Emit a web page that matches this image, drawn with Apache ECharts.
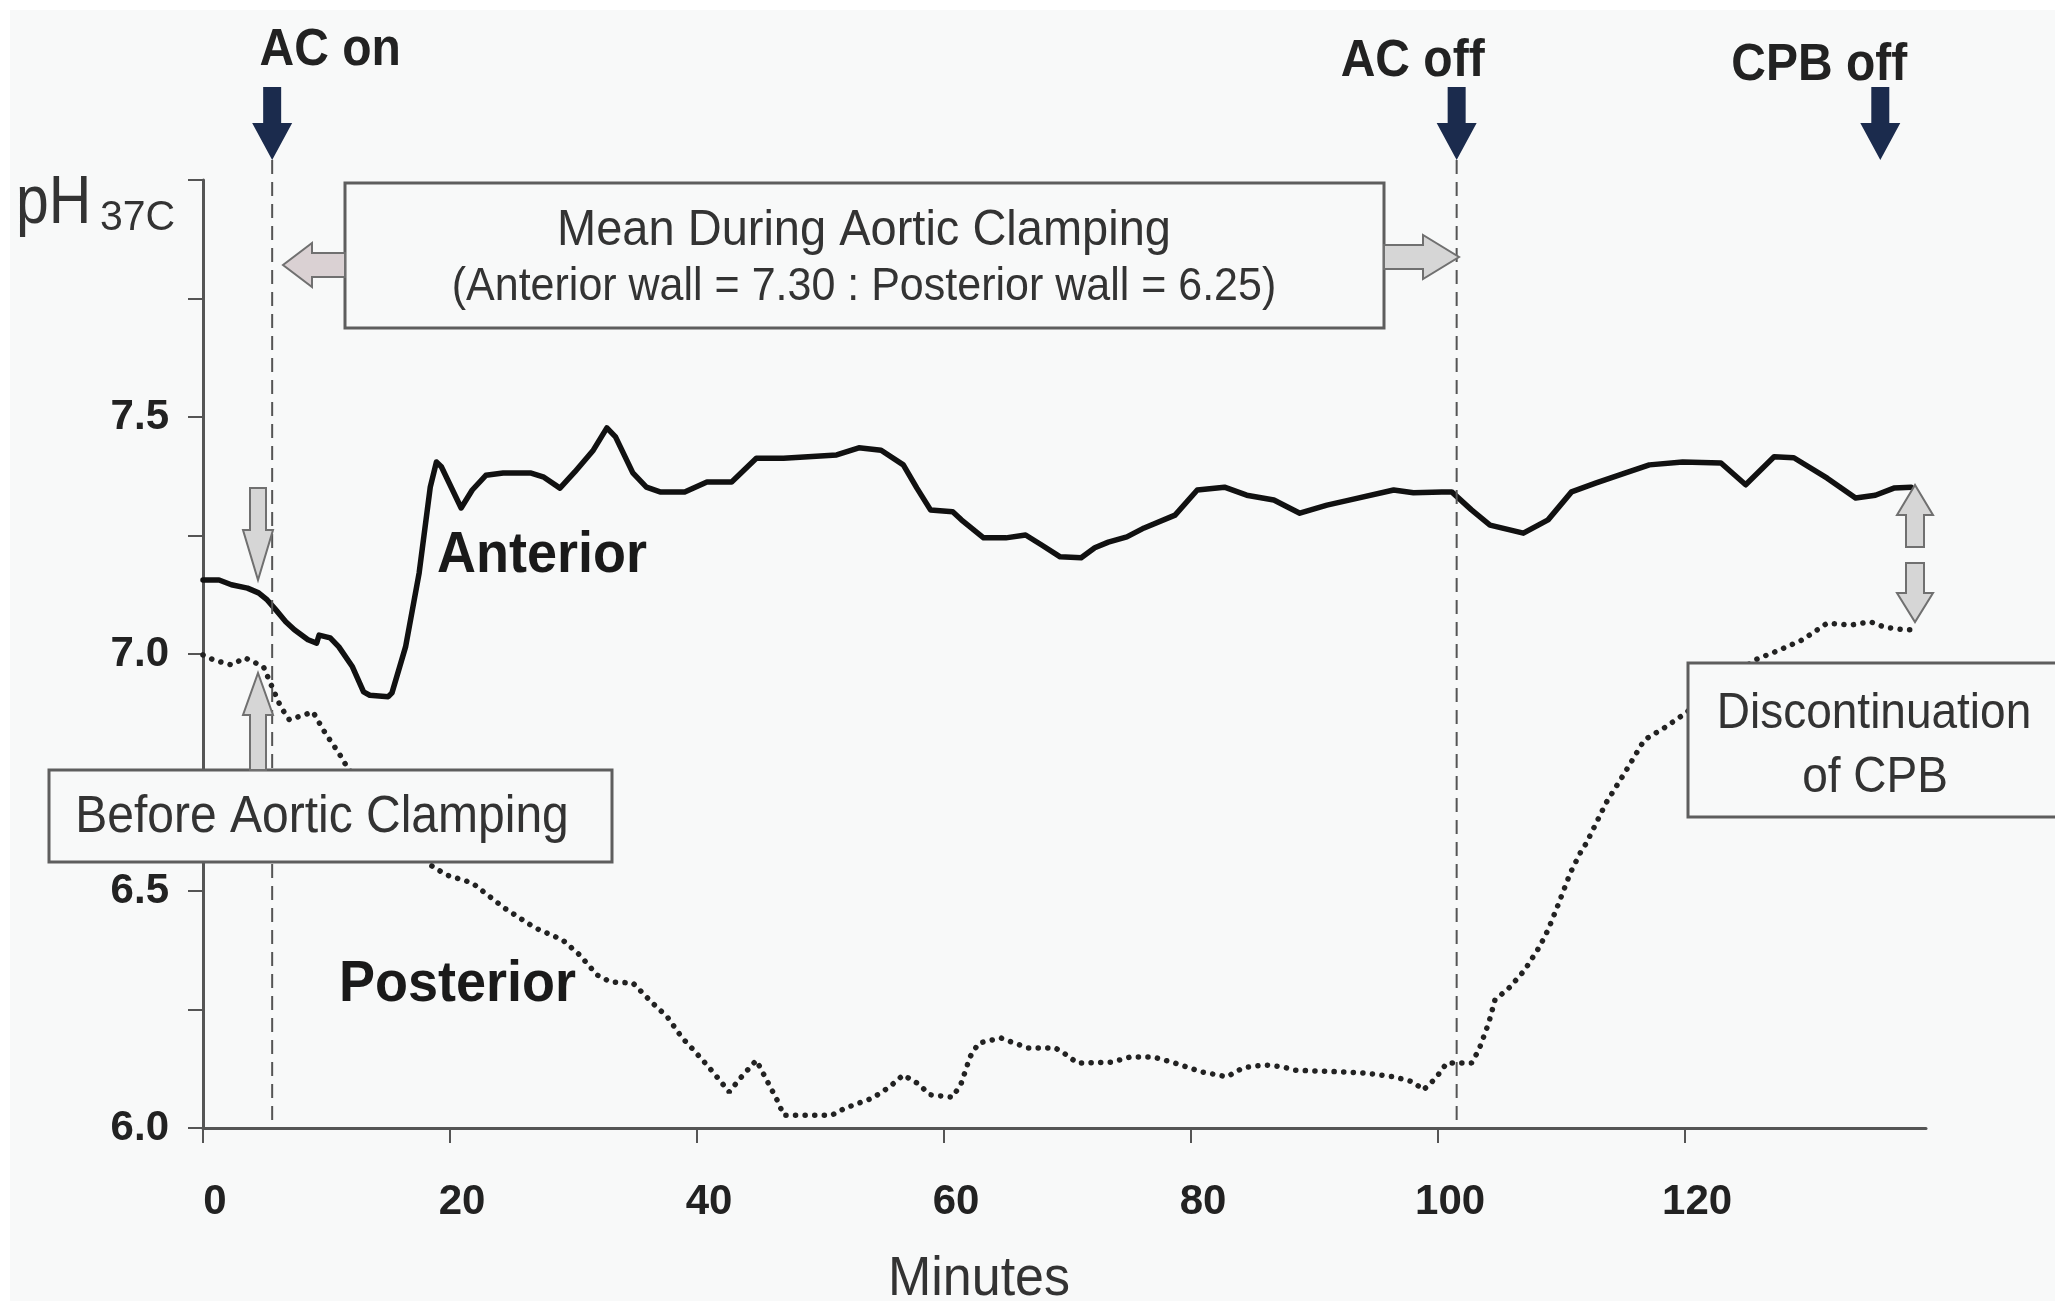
<!DOCTYPE html>
<html>
<head>
<meta charset="utf-8">
<script src="https://cdn.jsdelivr.net/npm/echarts@6/dist/echarts.min.js"></script>
<style>
  html, body { margin: 0; padding: 0; background: #ffffff; }
  #chart { width: 2055px; height: 1301px; }
</style>
</head>
<body>
<div id="chart"></div>
<script>
// Myocardial pH (37 °C corrected) over time, anterior vs posterior wall
const anteriorMinutes = [0, 1.3, 2.3, 3.6, 4.5, 5.2, 5.9, 6.7, 7.4, 8.5, 9.2, 9.4, 10.3, 11.0, 12.1, 13.0, 13.5, 15.0, 15.3, 16.4,
  17.5, 18.4, 18.9, 19.3, 20.9, 21.8, 22.9, 24.3, 26.5, 27.6, 28.9, 30.1, 31.6, 32.7, 33.4, 34.8, 35.9, 37.0, 39.0, 40.8,
  42.8, 44.8, 47.0, 51.3, 53.1, 54.9, 56.7, 57.8, 58.9, 60.7, 61.4, 63.2, 65.0, 66.6, 67.9, 69.4, 71.1, 72.2, 73.3, 74.8,
  76.2, 78.7, 80.5, 82.7, 84.5, 86.7, 88.8, 91.0, 92.7, 96.4, 98.0, 100.3, 101.1, 102.7, 104.2, 106.9, 108.9, 110.8, 112.8, 114.7,
  117.1, 119.8, 122.9, 124.9, 127.2, 128.8, 131.5, 133.8, 135.4, 136.9, 138.3];
const anteriorPH = [7.156, 7.156, 7.146, 7.139, 7.129, 7.114, 7.093, 7.068, 7.051, 7.030, 7.023, 7.040, 7.034, 7.015, 6.973, 6.920, 6.913, 6.910, 6.918, 7.015,
  7.171, 7.352, 7.405, 7.395, 7.308, 7.346, 7.377, 7.382, 7.382, 7.373, 7.350, 7.384, 7.430, 7.477, 7.458, 7.382, 7.352, 7.342, 7.342, 7.363,
  7.363, 7.413, 7.413, 7.420, 7.435, 7.430, 7.399, 7.350, 7.304, 7.300, 7.283, 7.245, 7.245, 7.251, 7.230, 7.205, 7.203, 7.224, 7.236, 7.247,
  7.266, 7.293, 7.346, 7.352, 7.335, 7.325, 7.297, 7.314, 7.324, 7.346, 7.340, 7.342, 7.342, 7.304, 7.272, 7.255, 7.283, 7.342, 7.361, 7.378,
  7.399, 7.405, 7.403, 7.357, 7.416, 7.414, 7.371, 7.329, 7.335, 7.350, 7.352];

const posteriorMinutes = [0, 0.9, 2.3, 3.4, 4.9, 5.6, 6.3, 7.0, 8.9, 9.9, 11.0, 11.7, 18.4, 19.7, 21.8, 24.4, 26.9, 29.1, 30.5, 31.9,
  33.0, 34.8, 36.3, 37.6, 38.8, 39.7, 40.8, 41.7, 42.6, 43.5, 44.8, 45.5, 46.6, 47.0, 48.4, 50.9, 52.0, 54.2, 55.6, 56.7,
  57.8, 58.9, 60.7, 61.4, 62.1, 62.8, 64.6, 65.7, 66.8, 69.0, 69.7, 70.8, 73.6, 75.1, 76.9, 78.7, 80.9, 82.9, 84.2, 85.9,
  87.4, 88.4, 92.6, 94.1, 96.4, 98.0, 98.8, 99.8, 100.7, 102.7, 103.3, 104.1, 104.6, 105.8, 107.0, 108.2, 108.9, 109.7, 110.7, 111.5,
  112.0, 113.6, 115.1, 116.7, 118.3, 119.8, 125.6, 127.6, 129.5, 131.5, 133.4, 135.0, 136.1, 137.7, 138.8];
const posteriorPH = [6.998, 6.987, 6.977, 6.992, 6.973, 6.930, 6.888, 6.861, 6.878, 6.833, 6.791, 6.760, 6.555, 6.534, 6.517, 6.464, 6.422, 6.397, 6.365, 6.323,
  6.308, 6.306, 6.266, 6.234, 6.190, 6.165, 6.133, 6.105, 6.076, 6.105, 6.143, 6.108, 6.053, 6.027, 6.027, 6.027, 6.042, 6.063, 6.087, 6.112,
  6.095, 6.070, 6.065, 6.095, 6.150, 6.179, 6.190, 6.179, 6.169, 6.169, 6.158, 6.137, 6.139, 6.150, 6.150, 6.137, 6.118, 6.108, 6.127, 6.133,
  6.129, 6.122, 6.118, 6.116, 6.108, 6.097, 6.080, 6.105, 6.137, 6.137, 6.165, 6.222, 6.270, 6.297, 6.333, 6.382, 6.418, 6.470, 6.538, 6.580,
  6.601, 6.686, 6.749, 6.819, 6.844, 6.871, 6.987, 7.008, 7.030, 7.065, 7.061, 7.068, 7.057, 7.051, 7.051];

const xTickValues = [0, 20, 40, 60, 80, 100, 120];
const yLabelValues = [6.0, 6.5, 7.0, 7.5];
const yTickValues = [6.0, 6.25, 6.5, 6.75, 7.0, 7.25, 7.5, 7.75, 8.0];

// Procedure events (minutes)
const eventNames = ['AC on', 'AC off', 'CPB off'];
const eventMinutes = [5.6, 101.5, 135.8];
const eventHasLine = [true, true, false];

// Means during aortic clamping
const meanAnterior = 7.30;
const meanPosterior = 6.25;

const FONT = '"Liberation Sans", Arial, Helvetica, sans-serif';
const BG = '#f8f9f9';

const zip = (xs, ys) => xs.map((x, i) => [x, ys[i]]);

const chart = echarts.init(document.getElementById('chart'), null, { renderer: 'canvas' });

chart.setOption({
  backgroundColor: BG,
  animation: false,
  grid: { left: 203, right: 129, top: 180, bottom: 173 },
  xAxis: {
    type: 'value', min: 0, max: 139.5, interval: 20,
    axisLine: { show: true, onZero: false, lineStyle: { color: '#555', width: 3 } },
    axisTick: { show: true, length: 15, customValues: xTickValues, lineStyle: { color: '#555', width: 2 } },
    axisLabel: {
      customValues: xTickValues, color: '#222', fontFamily: FONT, fontWeight: 'bold',
      fontSize: 42, margin: 53, padding: [0, 0, 0, 24]
    },
    splitLine: { show: false }
  },
  yAxis: {
    type: 'value', min: 6, max: 8, interval: 0.25,
    axisLine: { show: true, lineStyle: { color: '#555', width: 3 } },
    axisTick: { show: true, length: 15, customValues: yTickValues, lineStyle: { color: '#555', width: 2 } },
    axisLabel: {
      customValues: yLabelValues, formatter: v => v.toFixed(1), color: '#222',
      fontFamily: FONT, fontWeight: 'bold', fontSize: 42, margin: 34
    },
    splitLine: { show: false }
  },
  series: [
    {
      name: 'Anterior', type: 'line', data: zip(anteriorMinutes, anteriorPH),
      showSymbol: false, symbol: 'none', z: 3,
      lineStyle: { color: '#111', width: 5.5, join: 'round', cap: 'round' }
    },
    {
      name: 'Posterior', type: 'line', data: zip(posteriorMinutes, posteriorPH),
      showSymbol: false, symbol: 'none', z: 3,
      lineStyle: { color: '#222', width: 5.5, type: [0.1, 9.5], cap: 'round' }
    }
  ]
});

// ---- annotation layer ----
function blockArrow(x1, y1, x2, y2, w, hw, hl, fill) {
  const dx = x2 - x1, dy = y2 - y1, L = Math.hypot(dx, dy);
  const ux = dx / L, uy = dy / L, nx = -uy, ny = ux;
  const bx = x2 - ux * hl, by = y2 - uy * hl;
  return {
    type: 'polygon', z: 120,
    shape: { points: [
      [x1 + nx * w, y1 + ny * w], [bx + nx * w, by + ny * w], [bx + nx * hw, by + ny * hw],
      [x2, y2],
      [bx - nx * hw, by - ny * hw], [bx - nx * w, by - ny * w], [x1 - nx * w, y1 - ny * w]
    ] },
    style: { fill: fill, stroke: '#707070', lineWidth: 2 }
  };
}
function label(text, x, y, size, weight, align, color, scaleY) {
  return {
    type: 'text', z: 130, x: x, y: y, scaleY: scaleY || 1,
    style: {
      text: text, x: 0, y: 0, fill: color || '#222',
      fontFamily: FONT, fontSize: size, fontWeight: weight || 'normal',
      align: align || 'center', verticalAlign: 'middle'
    }
  };
}
function box(x, y, w, h) {
  return { type: 'rect', z: 110, shape: { x: x, y: y, width: w, height: h },
    style: { fill: BG, stroke: '#5e5e5e', lineWidth: 3 } };
}

const yBottomPx = chart.convertToPixel({ yAxisIndex: 0 }, 6.0);
const arrowTop = 87, arrowHeadBase = 123, arrowTip = 160;
const eventLabelOffset = [[58, 51], [-44, 62], [-61, 66]];

const g = [];
// white frame at the top and left edges
g.push({ type: 'rect', z: 1, shape: { x: 0, y: 0, width: 2055, height: 10 }, style: { fill: '#ffffff' } });
g.push({ type: 'rect', z: 1, shape: { x: 0, y: 0, width: 10, height: 1301 }, style: { fill: '#ffffff' } });

eventMinutes.forEach((m, i) => {
  const px = chart.convertToPixel({ xAxisIndex: 0 }, m);
  if (eventHasLine[i]) {
    g.push({ type: 'line', z: 50, shape: { x1: px, y1: arrowTip, x2: px, y2: yBottomPx },
      style: { stroke: '#555', lineWidth: 2, lineDash: [14, 8] } });
  }
  g.push({ type: 'polygon', z: 120, shape: { points: [
    [px - 9, arrowTop], [px + 9, arrowTop], [px + 9, arrowHeadBase], [px + 20, arrowHeadBase],
    [px, arrowTip], [px - 20, arrowHeadBase], [px - 9, arrowHeadBase]
  ] }, style: { fill: '#1b2b4d' } });
  g.push(label(eventNames[i], px + eventLabelOffset[i][0], eventLabelOffset[i][1], 48, 'bold', 'center', '#222', 1.08));
});

// y-axis title pH37C
g.push(label('pH', 16, 204, 59, 'normal', 'left', '#333', 1.15));
g.push(label('37C', 100, 218, 41, 'normal', 'left', '#333', 1.05));

// mean during clamping box
g.push(box(345, 183, 1039, 145));
g.push(label('Mean During Aortic Clamping', 864, 231, 47, 'normal', 'center', '#333', 1.08));
g.push(label('(Anterior wall = ' + meanAnterior.toFixed(2) + ' : Posterior wall = ' + meanPosterior.toFixed(2) + ')',
  864, 287, 43, 'normal', 'center', '#333', 1.08));
g.push(blockArrow(345, 265, 283, 265, 12, 22, 29, '#dad1d3'));
g.push(blockArrow(1384, 257, 1459, 257, 12, 22, 36, '#d6d6d6'));

// before clamping box
g.push(box(49, 770, 563, 92));
g.push(label('Before Aortic Clamping', 322, 818, 48, 'normal', 'center', '#333', 1.08));
g.push(blockArrow(258, 488, 258, 580, 8, 15, 50, '#d6d6d6'));
g.push(blockArrow(258, 770, 258, 673, 8, 15, 42, '#d6d6d6'));

// discontinuation of CPB box
g.push(box(1688, 663, 420, 154));
g.push(label('Discontinuation', 1874, 714, 46, 'normal', 'center', '#333', 1.08));
g.push(label('of CPB', 1875, 778, 46, 'normal', 'center', '#333', 1.08));
g.push(blockArrow(1915, 547, 1915, 485, 9, 18, 30, '#d6d6d6'));
g.push(blockArrow(1915, 563, 1915, 622, 9, 18, 29, '#d6d6d6'));

// series names
g.push(label('Anterior', 437, 556, 54, 'bold', 'left', '#1a1a1a', 1.06));
g.push(label('Posterior', 339, 985, 54, 'bold', 'left', '#1a1a1a', 1.06));

// x-axis title
g.push(label('Minutes', 979, 1280, 52, 'normal', 'center', '#333', 1.08));

chart.setOption({ graphic: g });
</script>
</body>
</html>
